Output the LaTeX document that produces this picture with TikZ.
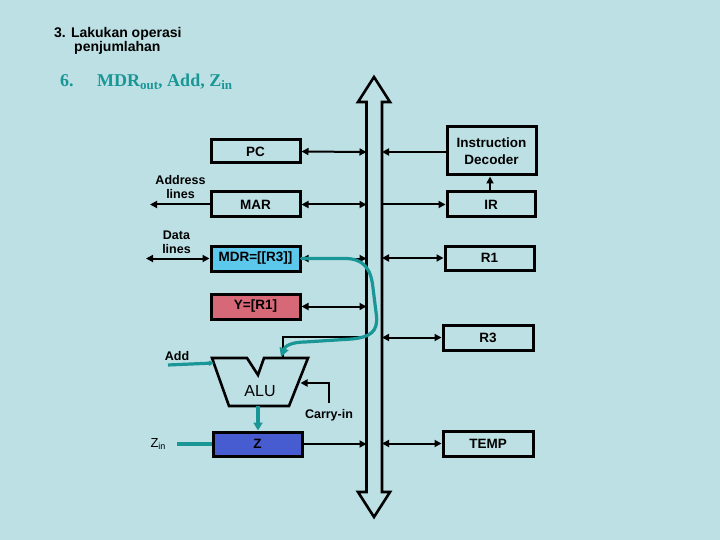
\documentclass[tikz,border=0pt]{standalone}
\usepackage{fontspec}
\setmainfont{Liberation Sans}
\newfontfamily\timesfont{Liberation Serif}
\usetikzlibrary{arrows.meta}
\definecolor{bgc}{RGB}{189,224,228}
\definecolor{tealc}{RGB}{25,150,150}
\definecolor{mdrc}{RGB}{92,200,236}
\definecolor{yc}{RGB}{214,104,120}
\definecolor{zc}{RGB}{72,92,210}
\tikzset{
  regbox/.style={draw=black, line width=3pt, minimum width=89pt, minimum height=24pt, inner sep=0pt,
    font=\fontsize{13.5}{13.5}\selectfont\bfseries},
  conn/.style={line width=2pt, black},
  tip/.tip={Triangle[length=7pt,width=7pt]},
  lbl/.style={font=\fontsize{12.5}{14}\selectfont\bfseries, inner sep=0pt, align=center},
  tealline/.style={line width=3.2pt, tealc},
}
\begin{document}
\begin{tikzpicture}[x=1pt,y=-1pt]
\useasboundingbox[fill=bgc] (0,0) rectangle (720,540);
% titles
\node[anchor=base west, inner sep=0pt, font=\fontsize{14}{16}\selectfont\bfseries] (t1) at (54,38) {3. Lakukan operasi};
\node[anchor=base west, inner sep=0pt, font=\fontsize{14}{16}\selectfont\bfseries] (t2) at (74,52) {penjumlahan};
\node[anchor=base west, inner sep=0pt, text=tealc, font=\fontsize{18}{20}\selectfont\timesfont\bfseries] (t3) at (60,87) {6.};
\node[anchor=base west, inner sep=0pt, text=tealc, font=\fontsize{18}{20}\selectfont\timesfont\bfseries] (t4) at (97,87)
  {MDR\raisebox{-0.35ex}{\fontsize{13}{13}\selectfont out}, Add, Z\raisebox{-0.35ex}{\fontsize{13}{13}\selectfont in}};
% bus
\draw[line width=2.6pt, line join=miter] (374,77) -- (390,102) -- (382,102) -- (382,492) -- (390,492) -- (374,517)
  -- (358,492) -- (366.5,492) -- (366.5,102) -- (358,102) -- cycle;
% bus coordinates
\foreach \n/\y in {pc/152, mar/204.5, mdr/258.5, y/306.5, alu/337, z/444} {\coordinate (bl\n) at (366.5,\y);}
\foreach \n/\y in {id/152, ir/204.5, ra/258, rc/337.5, tp/443.5} {\coordinate (br\n) at (382,\y);}
% registers
\node[regbox, minimum height=23pt] (pc) at (255.5,151.5) {PC};
\node[regbox, minimum height=25pt] (mar) at (255.5,204.5) {MAR};
\node[regbox, minimum height=25pt, fill=mdrc] (mdr) at (255.5,258.5) {MDR=[[R3]]};
\node[regbox, minimum height=25pt, fill=yc] (y) at (255.5,306.5) {Y=[R1]};
\node[regbox, minimum height=24pt, fill=zc] (z) at (257.5,444) {Z};
\node[regbox, minimum height=48pt, align=center, font=\fontsize{13.5}{17}\selectfont\bfseries] (id) at (491.5,151) {Instruction\\Decoder};
\node[regbox, minimum width=88pt, minimum height=25pt] (ir) at (491,204.5) {IR};
\node[regbox, minimum height=24pt] (r1) at (489.5,258) {R1};
\node[regbox, minimum width=90pt, minimum height=25pt] (r3) at (488,337.5) {R3};
\node[regbox, minimum width=90pt, minimum height=25pt] (temp) at (488,443.5) {TEMP};
% bus connectors
\draw[conn, {tip}-{tip}] (pc.east) -- (blpc);
\draw[conn, {tip}-{tip}] (mar.east) -- (blmar);
\draw[conn, {tip}-{tip}] (mdr.east) -- (blmdr);
\draw[conn, {tip}-{tip}] (y.east) -- (bly);
\draw[conn, -{tip}] (z.east) -- (blz);
\draw[conn, -{tip}] (id.west |- brid) -- (brid);
\draw[conn, -{tip}] (brir) -- (ir.west);
\draw[conn, {tip}-{tip}] (brra) -- (r1.west);
\draw[conn, {tip}-{tip}] (brrc) -- (r3.west);
\draw[conn, {tip}-{tip}] (brtp) -- (temp.west);
\draw[conn, -{tip}] (ir.north -| 490,0) -- (id.south -| 490,0);
% address / data lines
\coordinate (addrend) at (150,204.5);
\coordinate (dataend) at (146,258.5);
\draw[conn, -{tip}] (mar.west) -- (addrend);
\draw[conn, {tip}-{tip}] (dataend) -- (mdr.west);
\node[lbl] (addrlbl) at (180.5,187) {Address\\lines};
\node[lbl] (datalbl) at (176.5,242.5) {Data\\lines};
% ALU
\coordinate (a1) at (212,358);
\coordinate (a2) at (247,358);
\coordinate (a3) at (258,375);
\coordinate (a4) at (264,358);
\coordinate (a5) at (308,358);
\coordinate (a6) at (289,406);
\coordinate (a7) at (229,406);
\draw[line width=2.6pt, line join=miter] (a1) -- (a2) -- (a3) -- (a4) -- (a5) -- (a6) -- (a7) -- cycle;
\node[inner sep=0pt, font=\fontsize{16}{16}\selectfont] (alu) at (260,391) {ALU};
\coordinate (aluB) at (258,406);
\coordinate (aluIn) at (283,358);
\coordinate (aluCy) at (300.5,383);
% bus to ALU
\draw[conn] (blalu) -- (283,337) -- (aluIn);
% carry-in
\coordinate (cyend) at (329,403);
\draw[conn, -{tip}] (cyend) -- (329,383) -- (aluCy);
\node[lbl, anchor=base] (cylbl) at (329,418) {Carry-in};
% Add
\coordinate (addst) at (168,365);
\coordinate (addin) at (214,363);
\draw[tealline, -{Triangle[length=5pt,width=5pt]}] (addst) -- (addin);
\node[lbl, anchor=base] (addlbl) at (177,360) {Add};
% Z in
\coordinate (zinst) at (177,444);
\draw[tealline] (zinst) -- (z.west);
\node[inner sep=0pt, anchor=base, font=\fontsize{13}{13}\selectfont] (zinlbl) at (158,447) {Z\raisebox{-0.3ex}{\fontsize{9}{9}\selectfont in}};
% ALU to Z
\draw[tealline, -{Triangle[length=8pt,width=9pt]}] (aluB) -- (z.north -| aluB);
% teal curve MDR -> ALU
\draw[tealline, line cap=round, -{Triangle[length=9pt,width=9pt]}] (mdr.east) -- (345,258.5)
  .. controls (363,258.5) and (371,268) .. (373,288)
  -- (376.5,316)
  .. controls (378,332) and (370,337) .. (352,339)
  -- (305,342)
  .. controls (292,342) and (285,346) .. (281,357);
\end{tikzpicture}
\end{document}
